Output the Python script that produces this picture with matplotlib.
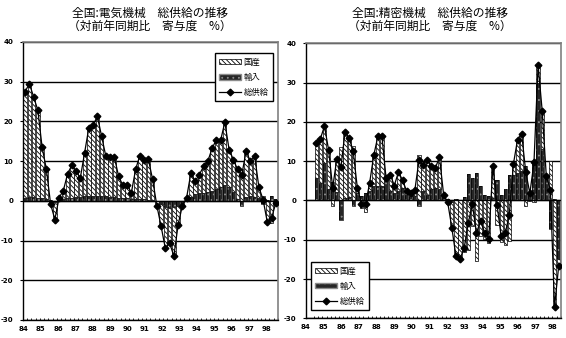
import numpy as np
import matplotlib
matplotlib.use("Agg")
import matplotlib.pyplot as plt
from matplotlib.patches import Patch
from matplotlib.lines import Line2D

plt.rcParams["font.family"] = ["Noto Sans CJK JP", "DejaVu Sans"]
plt.rcParams["hatch.linewidth"] = 0.6

# quarterly, 84Q1 .. 98Q4
years = ["84", "85", "86", "87", "88", "89", "90", "91",
         "92", "93", "94", "95", "96", "97", "98"]

# 電気機械
elec_total = [27.5, 29.5, 26.2, 22.8, 13.5, 8.0, -0.8, -4.7, 0.8, 2.6,
              6.8, 9.0, 7.4, 5.8, 12.1, 18.4, 19.0, 21.3, 16.3, 11.2,
              11.1, 11.0, 6.2, 3.9, 4.1, 2.0, 7.9, 11.4, 10.4, 10.5,
              5.4, -1.2, -6.4, -12.0, -10.6, -13.9, -6.1, -1.2, 0.8, 6.9,
              4.9, 6.6, 8.7, 10.0, 13.2, 15.4, 15.2, 19.8, 12.9, 10.4,
              7.9, 6.6, 12.5, 10.0, 11.4, 3.5, 0.3, -5.4, -4.3, -0.5]
elec_import = [0.8, 0.9, 0.9, 0.8, 0.7, 0.5, 0.2, -0.3, 0.3, 0.5,
               0.7, 0.8, 0.9, 1.0, 1.1, 1.2, 1.2, 1.2, 1.1, 1.1,
               1.0, 0.9, 0.8, 0.7, 0.6, 0.5, 0.5, 0.4, 0.4, 0.3,
               0.2, 0.0, -0.8, -1.5, -1.8, -1.6, -1.4, -1.0, 0.5, 1.0,
               1.6, 1.9, 2.0, 2.2, 2.6, 3.0, 3.6, 3.9, 3.5, 2.2,
               0.5, -1.3, 1.0, 1.2, 1.0, 0.8, -0.9, 0.3, 1.2, 0.5]
elec_domestic = [26.7, 28.6, 25.3, 22.0, 12.8, 7.5, -1.0, -4.4, 0.5, 2.1,
                 6.1, 8.2, 6.5, 4.8, 11.0, 17.2, 17.8, 20.1, 15.2, 10.1,
                 10.1, 10.1, 5.4, 3.2, 3.5, 1.5, 7.4, 11.0, 10.0, 10.2,
                 5.2, -1.2, -5.6, -10.5, -8.8, -12.3, -4.7, -0.2, 0.3, 5.9,
                 3.3, 4.7, 6.7, 7.8, 10.6, 12.4, 11.6, 15.9, 9.4, 8.2,
                 7.4, 7.9, 11.5, 8.8, 10.4, 2.7, 1.2, -5.7, -5.5, -1.0]

# 精密機械
prec_total = [14.5, 15.7, 18.9, 12.9, 3.2, 10.6, 8.5, 17.3, 15.9, 12.5,
              3.2, -0.8, -1.0, 4.5, 11.5, 16.3, 16.3, 5.6, 6.6, 3.8,
              7.2, 5.2, 2.4, 2.0, 2.6, 10.2, 9.1, 10.4, 8.7, 8.3,
              11.0, 1.5, -0.5, -6.9, -14.2, -14.8, -12.2, -5.7, -1.0, -8.2,
              -5.3, -8.2, -9.7, 8.7, -1.1, -9.0, -8.4, -3.6, 9.3, 15.5,
              17.0, 7.2, 1.8, 9.7, 34.5, 22.8, 6.2, 2.7, -27.2, -16.8]
prec_import = [5.8, 4.5, 9.6, 3.0, 4.6, 2.2, -5.0, 0.7, 1.0, -1.4,
               2.0, 1.2, 1.9, 2.4, 3.6, 3.8, 3.8, 4.9, 2.4, 2.0,
               2.4, 3.2, 1.5, 1.1, 1.1, -1.4, 2.4, 1.5, 2.8, 3.2,
               2.8, 1.2, 0.3, -0.4, 0.3, 0.2, 0.9, 6.8, 5.6, 7.1,
               3.8, 1.5, 1.1, 0.5, 5.2, 1.5, 3.0, 6.6, 6.6, 7.0,
               7.5, 8.7, 2.0, 10.0, 30.0, 13.0, 6.0, -7.3, 0.3, -15.0]
prec_domestic = [8.7, 11.2, 9.3, 9.9, -1.4, 8.4, 13.5, 16.6, 14.9, 13.9,
                 1.2, -2.0, -2.9, 2.1, 7.9, 12.5, 12.5, 0.7, 4.2, 1.8,
                 4.8, 2.0, 0.9, 0.9, 1.5, 11.6, 6.7, 8.9, 5.9, 5.1,
                 8.2, 0.3, -0.8, -6.5, -14.5, -15.0, -13.1, -12.5, -6.6, -15.3,
                 -9.1, -9.7, -10.8, 8.2, -6.3, -10.5, -11.4, -10.2, 2.7, 8.5,
                 9.5, -1.5, -0.2, -0.3, 4.5, 9.8, 0.2, 10.0, -27.5, -1.8]

DOM_STYLE = dict(facecolor="white", edgecolor="black", hatch="\\\\\\\\\\\\\\")
IMP_FACE = "#262626"
IMP_DOTS = "#8c8c8c"
IMP_HATCH = "..."


def stacked(ax, x, imp, dom, width):
    imp = np.asarray(imp)
    dom = np.asarray(dom)
    # Excel-style stacking: positives pile up, negatives pile down
    dom_bottom = np.where(dom >= 0, np.maximum(imp, 0), np.minimum(imp, 0))
    ax.bar(x, imp, width, color=IMP_FACE, edgecolor=IMP_DOTS, hatch=IMP_HATCH,
           linewidth=0, zorder=2)
    ax.bar(x, imp, width, fill=False, edgecolor="black", linewidth=0.5, zorder=2)
    ax.bar(x, dom, width, bottom=dom_bottom, linewidth=0.5, zorder=2, **DOM_STYLE)


def panel(ax, total, imp, dom, label_pos):
    x = np.arange(len(total))
    ax.set_axisbelow(True)
    ax.grid(axis="y", color="black", linewidth=1.0)
    stacked(ax, x, imp, dom, 0.78)
    ax.axhline(0, color="black", linewidth=0.9, zorder=3)
    ax.plot(x, total, color="black", linewidth=0.9, marker="D",
            markersize=3.4, zorder=4)

    ax.set_xlim(-0.5, len(total) - 0.5)
    ax.set_ylim(-30, 40)
    ax.set_yticks(np.arange(-30, 41, 10))
    ax.set_yticklabels([str(v) for v in range(-30, 41, 10)],
                       fontsize=5, fontweight="bold", family="DejaVu Sans")
    ax.tick_params(axis="y", length=2, pad=5)

    ax.set_xticks(label_pos)
    ax.set_xticklabels(years, fontsize=5, fontweight="bold", family="DejaVu Sans")
    ax.set_xticks(np.arange(-0.5, len(total), 1), minor=True)
    ax.tick_params(axis="x", which="major", length=0, pad=4)
    ax.tick_params(axis="x", which="minor", length=1.5, direction="in")

    for side in ("top", "right"):
        ax.spines[side].set_color("#808080")
        ax.spines[side].set_linewidth(1.2)
    for side in ("left", "bottom"):
        ax.spines[side].set_color("black")
        ax.spines[side].set_linewidth(1.0)


fig = plt.figure(figsize=(5.66, 3.38), dpi=100)
ax1 = fig.add_axes([0.0406, 0.0533, 0.4505, 0.8225])
ax2 = fig.add_axes([0.5406, 0.0583, 0.4500, 0.8136])

panel(ax1, elec_total, elec_import, elec_domestic, np.linspace(-0.4, 56.8, 15))
panel(ax2, prec_total, prec_import, prec_domestic, np.linspace(-2.5, 57.6, 15))

handles = [
    Patch(linewidth=0.5, **DOM_STYLE),
    Patch(facecolor=IMP_FACE, edgecolor=IMP_DOTS, hatch=IMP_HATCH),
    Line2D([], [], color="black", linewidth=0.9, marker="D", markersize=3.4),
]
labels = ["国産", "輸入", "総供給"]
leg_kw = dict(fontsize=6, fancybox=False, edgecolor="black", framealpha=1,
              handlelength=2.6, handleheight=0.6, labelspacing=0.75,
              borderpad=0.5, handletextpad=0.3, borderaxespad=0)
leg1 = ax1.legend(handles, labels, loc="upper right",
                  bbox_to_anchor=(0.979, 0.959), **leg_kw)
leg2 = ax2.legend(handles, labels, loc="lower left",
                  bbox_to_anchor=(0.02, 0.03), **leg_kw)
for leg in (leg1, leg2):
    leg.get_frame().set_linewidth(1.0)
    leg.set_zorder(6)

fig.text(150 / 566, 1 - 20 / 338, "全国:電気機械　総供給の推移\n（対前年同期比　寄与度　%）",
         ha="center", va="center", fontsize=8.5, linespacing=1.05)
fig.text(430 / 566, 1 - 20 / 338, "全国:精密機械　総供給の推移\n（対前年同期比　寄与度　%）",
         ha="center", va="center", fontsize=8.5, linespacing=1.05)

fig.savefig("out.png", dpi=100)
